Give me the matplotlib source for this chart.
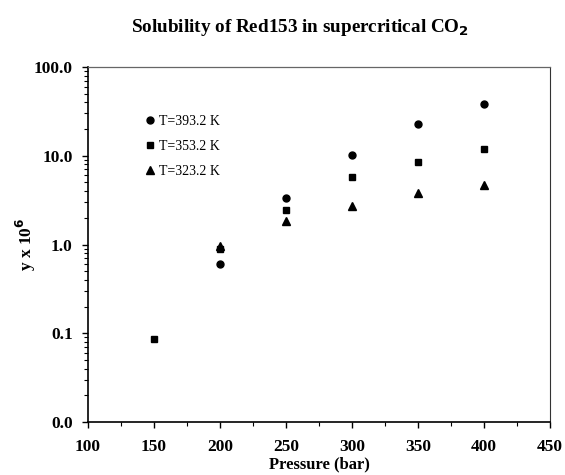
import numpy as np
import matplotlib
matplotlib.use('Agg')
import matplotlib.pyplot as plt
from matplotlib.ticker import FixedLocator, FormatStrFormatter, LogLocator, MultipleLocator

plt.rcParams['font.family'] = ['Liberation Serif', 'DejaVu Serif']

# data
p_393 = [200, 250, 300, 350, 400]
y_393 = [0.61, 3.3, 10.2, 22.8, 38.0]
p_353 = [150, 200, 250, 300, 350, 400]
y_353 = [0.087, 0.88, 2.45, 5.8, 8.6, 11.9]
p_323 = [200, 250, 300, 350, 400]
y_323 = [0.97, 1.84, 2.7, 3.8, 4.7]

fig = plt.figure(figsize=(5.65, 4.75), dpi=100)
ax = fig.add_axes([88/565, 1-422/475, (550-88)/565, (422-67)/475])

ax.plot(p_393, y_393, 'o', color='black', ms=5, label='T=393.2 K')
ax.plot(p_353, y_353, 's', color='black', ms=4.8, label='T=353.2 K')
ax.plot(p_323, y_323, '^', color='black', ms=5.5, label='T=323.2 K')

ax.set_yscale('log')
ax.set_xlim(100, 450)
ax.set_ylim(0.01, 100)
ax.xaxis.set_major_locator(MultipleLocator(50))
ax.xaxis.set_minor_locator(MultipleLocator(25))
ax.yaxis.set_major_locator(FixedLocator([0.01, 0.1, 1, 10, 100]))
ax.yaxis.set_major_formatter(FormatStrFormatter('%.1f'))
ax.yaxis.set_minor_locator(LogLocator(base=10, subs=np.arange(2, 10)))
ax.yaxis.set_minor_formatter(plt.NullFormatter())

ax.tick_params(which='both', direction='out', top=False, right=False, labelsize=12.5)
ax.tick_params(which='major', length=4, width=1)
ax.tick_params(which='minor', length=3, width=0.8)
ax.tick_params(axis='x', which='major', pad=8)
ax.tick_params(axis='y', which='major', pad=7)
for lab in ax.get_xticklabels() + ax.get_yticklabels():
    lab.set_fontweight('bold')
for s in ['left', 'bottom']:
    ax.spines[s].set_linewidth(1.2)
ax.spines['top'].set_color('#666666')
ax.spines['top'].set_linewidth(0.9)
ax.spines['right'].set_color('#333333')

ax.set_xlabel('Pressure (bar)', fontsize=12, fontweight='bold', labelpad=1)
ax.set_ylabel(r'y x 10$^{\mathbf{6}}$', fontsize=12.5, fontweight='bold', labelpad=-3)
fig.text(300/565, 1-27/475, r'Solubility of Red153 in supercritical CO$_\mathbf{2}$',
         fontsize=13.8, fontweight='bold', ha='center', va='center')

ax.legend(loc='upper left', bbox_to_anchor=(0.09, 0.9), frameon=False, fontsize=10,
          handletextpad=0.1, handlelength=1.1, labelspacing=0.85)

plt.savefig('out.png', dpi=100)
